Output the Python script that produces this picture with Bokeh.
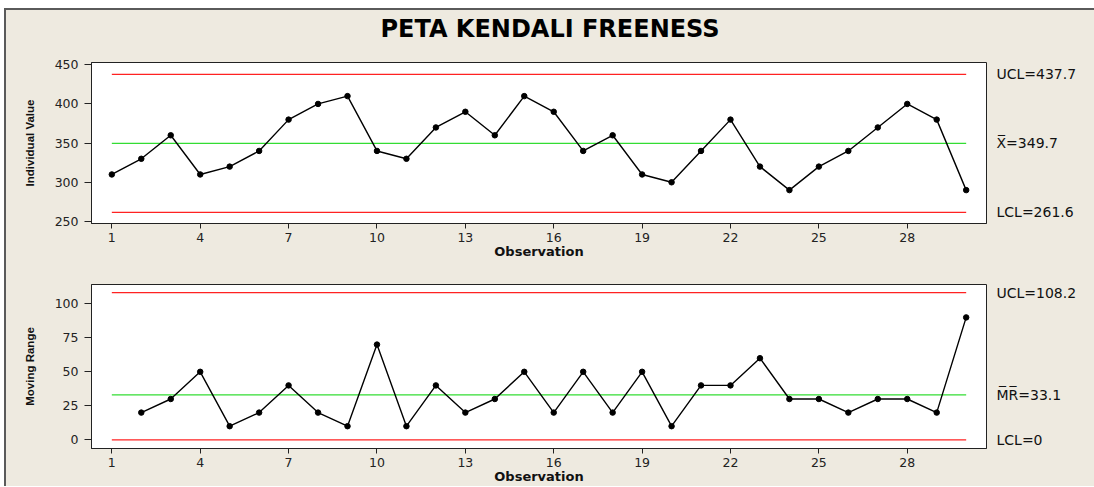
from bokeh.plotting import figure
from bokeh.layouts import column
from bokeh.models import FixedTicker, LinearAxis, Range1d, ColumnDataSource
from bokeh.embed import file_html
from bokeh.resources import INLINE

# ---------------- data ----------------
title_text = "PETA KENDALI FREENESS"
observation = list(range(1, 31))
individual = [310, 330, 360, 310, 320, 340, 380, 400, 410, 340,
              330, 370, 390, 360, 410, 390, 340, 360, 310, 300,
              340, 380, 320, 290, 320, 340, 370, 400, 380, 290]
mr_observation = list(range(2, 31))
moving_range = [20, 30, 50, 10, 20, 40, 20, 10, 70,
                10, 40, 20, 30, 50, 20, 50, 20, 50, 10,
                40, 40, 60, 30, 30, 20, 30, 30, 20, 90]
i_limits = [261.6, 349.7, 437.7]            # LCL, mean, UCL
i_limit_labels = ["LCL=261.6", "X\u0305=349.7", "UCL=437.7"]
mr_limits = [0, 33.1, 108.2]                # LCL, mean, UCL
mr_limit_labels = ["LCL=0", "M\u0305R\u0305=33.1", "UCL=108.2"]
x_ticks = [1, 4, 7, 10, 13, 16, 19, 22, 25, 28]
i_ticks = [250, 300, 350, 400, 450]
mr_ticks = [0, 25, 50, 75, 100]

# ---------------- style ----------------
BG = "#EEEAE0"
RED = "#FF2222"
GREEN = "#33DD33"
TICK_FONT = "DejaVu Sans"
LABEL_FONT = "Liberation Sans"
X_START, X_END = 0.31, 30.69
FRAME_W = 895
TITLE_SHIFT_PX = 11          # title is centred on the whole panel, not the frame


def make_fig(top, bottom, frame_h, y_range, y_ticks, y_label):
    p = figure(frame_width=FRAME_W, frame_height=frame_h, title=None,
               x_range=Range1d(X_START, X_END), y_range=y_range,
               output_backend="svg", toolbar_location=None,
               min_border_left=85, min_border_right=108,
               min_border_top=top, min_border_bottom=bottom,
               background_fill_color="white", border_fill_color=BG)
    p.outline_line_color = "#222222"
    p.outline_line_width = 1
    p.grid.visible = False
    for ax in (p.xaxis[0], p.yaxis[0]):
        ax.axis_line_color = "#222222"
        ax.major_tick_line_color = "#222222"
        ax.major_tick_in = 0
        ax.minor_tick_line_color = None
        ax.major_label_text_font = TICK_FONT
        ax.major_label_text_font_size = "12.5px"
        ax.major_label_text_color = "#222222"
    p.xaxis.ticker = FixedTicker(ticks=x_ticks)
    p.xaxis.major_tick_out = 5
    p.xaxis.major_label_standoff = 4
    p.xaxis.axis_label = "Observation"
    p.xaxis.axis_label_text_font = "DejaVu Sans"
    p.xaxis.axis_label_text_font_style = "bold"
    p.xaxis.axis_label_text_font_size = "13px"
    p.xaxis.axis_label_text_color = "#111111"
    p.xaxis.axis_label_standoff = -1
    p.yaxis.ticker = FixedTicker(ticks=y_ticks)
    p.yaxis.major_tick_out = 7
    p.yaxis.major_label_standoff = 6
    p.yaxis.axis_label = y_label
    p.yaxis.axis_label_text_font = LABEL_FONT
    p.yaxis.axis_label_text_font_style = "bold"
    p.yaxis.axis_label_text_font_size = "11.5px"
    p.yaxis.axis_label_text_color = "#111111"
    p.yaxis.axis_label_standoff = 16
    return p


def add_limits(p, limits, labels, x0, x1):
    lcl, center, ucl = limits
    p.line([x0, x1], [ucl, ucl], line_color=RED, line_width=1.2)
    p.line([x0, x1], [lcl, lcl], line_color=RED, line_width=1.2)
    p.line([x0, x1], [center, center], line_color=GREEN, line_width=1.3)
    ra = LinearAxis(ticker=FixedTicker(ticks=limits),
                    major_label_overrides={v: t for v, t in zip(limits, labels)})
    ra.axis_line_color = None
    ra.major_tick_line_color = None
    ra.major_tick_in = 0
    ra.major_tick_out = 0
    ra.minor_tick_line_color = None
    ra.minor_tick_in = 0
    ra.minor_tick_out = 0
    ra.major_label_standoff = 10
    ra.major_label_text_font = TICK_FONT
    ra.major_label_text_font_size = "14px"
    ra.major_label_text_color = "#111111"
    p.add_layout(ra, "right")


# ---------------- top chart: individuals ----------------
p1 = make_fig(52, 39, 161, Range1d(247.4, 452.9), i_ticks, "Individual Value")

# chart title, drawn as the single label of an axis above the frame
title_x = (X_START + X_END) / 2 + TITLE_SHIFT_PX * (X_END - X_START) / FRAME_W
ta = LinearAxis(ticker=FixedTicker(ticks=[title_x]),
                major_label_overrides={title_x: title_text})
ta.axis_line_color = None
ta.major_tick_line_color = None
ta.major_tick_in = 0
ta.major_tick_out = 0
ta.minor_tick_line_color = None
ta.minor_tick_in = 0
ta.minor_tick_out = 0
ta.major_label_standoff = 20
ta.major_label_text_font = "DejaVu Sans"
ta.major_label_text_font_style = "bold"
ta.major_label_text_font_size = "24px"
ta.major_label_text_color = "#000000"
p1.add_layout(ta, "above")

add_limits(p1, i_limits, i_limit_labels, observation[0], observation[-1])
src1 = ColumnDataSource(dict(x=observation, y=individual))
p1.line("x", "y", source=src1, line_color="black", line_width=1.4)
p1.scatter("x", "y", source=src1, size=5.5, color="black")

# ---------------- bottom chart: moving range ----------------
p2 = make_fig(22, 37, 164, Range1d(-6.4, 114.2), mr_ticks, "Moving Range")
add_limits(p2, mr_limits, mr_limit_labels, observation[0], observation[-1])
src2 = ColumnDataSource(dict(x=mr_observation, y=moving_range))
p2.line("x", "y", source=src2, line_color="black", line_width=1.4)
p2.scatter("x", "y", source=src2, size=5.5, color="black")

layout = column(p1, p2, spacing=0, margin=(8, 0, 0, 4),
                styles={"background-color": BG,
                        "border-top": "2px solid #5a5a5a",
                        "border-left": "2px solid #5a5a5a"})

open("out.html", "w").write(file_html(layout, INLINE))
